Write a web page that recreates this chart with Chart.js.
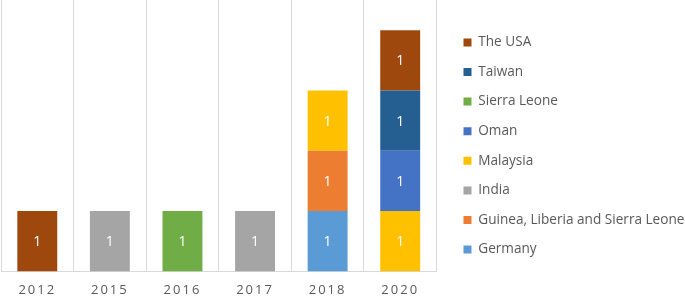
<!DOCTYPE html>
<html>
<head>
<meta charset="utf-8">
<script src="https://cdn.jsdelivr.net/npm/chart.js@4.4.0/dist/chart.umd.min.js"></script>
<style>
    html, body { margin: 0; padding: 0; background: #fff; }
    #wrap { width: 685px; height: 299px; }
</style>
</head>
<body>
<div id="wrap"><canvas id="chart"></canvas></div>
<script>
// --- DATOS ---
const YEARS = ['2012', '2015', '2016', '2017', '2018', '2020'];

const GERMANY       = [null, null, null, null, 1, null];
const GUINEA_LIB_SL = [null, null, null, null, 1, null];
const INDIA         = [null, 1, null, 1, null, null];
const MALAYSIA      = [null, null, null, null, 1, 1];
const OMAN          = [null, null, null, null, null, 1];
const SIERRA_LEONE  = [null, null, 1, null, null, null];
const TAIWAN        = [null, null, null, null, null, 1];
const THE_USA       = [1, null, null, null, null, 1];

const FONT = "'Open Sans', sans-serif";
const TEXT_GREY = '#595959';
const GRID_GREY = '#d9d9d9';

// --- PLUGINS ---
// valor centrado en cada segmento
const barValues = {
    id: 'barValues',
    afterDatasetsDraw(chart) {
        const ctx = chart.ctx;
        ctx.save();
        ctx.font = `14px ${FONT}`;
        ctx.fillStyle = '#ffffff';
        ctx.textAlign = 'center';
        ctx.textBaseline = 'middle';
        chart.data.datasets.forEach((ds, i) => {
            chart.getDatasetMeta(i).data.forEach((bar, j) => {
                const v = ds.data[j];
                if (v == null) return;
                const c = bar.getCenterPoint();
                ctx.fillText(String(v), c.x, c.y + 1);
            });
        });
        ctx.restore();
    }
};

// espaciado entre letras en las etiquetas del eje x
const spacedTicks = {
    id: 'spacedTicks',
    beforeDraw(chart) {
        const scale = chart.scales.x;
        if (scale._spaced) return;
        const draw = scale.drawLabels;
        scale.drawLabels = function (area) {
            this.ctx.save();
            this.ctx.letterSpacing = '2px';
            draw.call(this, area);
            this.ctx.restore();
        };
        scale._spaced = true;
    }
};

// desplaza la leyenda sin tocar el área del gráfico
const LEGEND_DX = 11;
const LEGEND_DY = -8.5;
const legendShift = {
    id: 'legendShift',
    afterLayout(chart) {
        const lg = chart.legend;
        lg.left += LEGEND_DX; lg.right += LEGEND_DX;
        lg.top += LEGEND_DY; lg.bottom += LEGEND_DY;
    }
};

const series = [
    { label: 'Germany', data: GERMANY, color: '#5B9BD5' },
    { label: 'Guinea, Liberia and Sierra Leone', data: GUINEA_LIB_SL, color: '#ED7D31' },
    { label: 'India', data: INDIA, color: '#A5A5A5' },
    { label: 'Malaysia', data: MALAYSIA, color: '#FFC000' },
    { label: 'Oman', data: OMAN, color: '#4472C4' },
    { label: 'Sierra Leone', data: SIERRA_LEONE, color: '#70AD47' },
    { label: 'Taiwan', data: TAIWAN, color: '#255E91' },
    { label: 'The USA', data: THE_USA, color: '#9E480E' }
];

new Chart(document.getElementById('chart'), {
    type: 'bar',
    data: {
        labels: YEARS,
        datasets: series.map(s => ({
            label: s.label,
            data: s.data,
            backgroundColor: s.color,
            borderWidth: 0,
            categoryPercentage: 1,
            barPercentage: 0.55
        }))
    },
    options: {
        responsive: true,
        maintainAspectRatio: false,
        animation: false,
        layout: { padding: { left: 1, right: 1.6, top: 0, bottom: -10 } },
        scales: {
            x: {
                stacked: true,
                grid: { color: GRID_GREY, drawTicks: false, offset: true },
                border: { color: GRID_GREY },
                ticks: { color: TEXT_GREY, padding: 11, font: { family: FONT, size: 13 } }
            },
            y: {
                stacked: true,
                display: false,
                min: 0,
                max: 4.5
            }
        },
        plugins: {
            legend: {
                position: 'right',
                reverse: true,
                labels: {
                    boxWidth: 8,
                    boxHeight: 8,
                    padding: 16,
                    color: TEXT_GREY,
                    font: { family: FONT, size: 13.6 }
                }
            },
            tooltip: { enabled: false }
        }
    },
    plugins: [barValues, spacedTicks, legendShift]
});
</script>
</body>
</html>
